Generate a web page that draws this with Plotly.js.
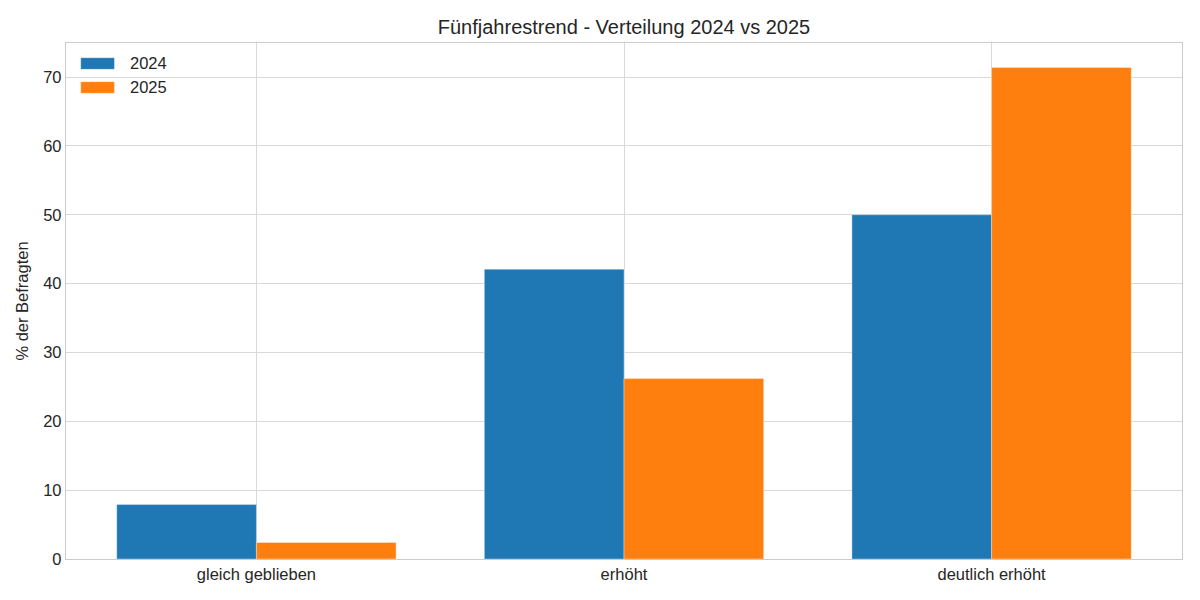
<!DOCTYPE html>
<html>
<head>
<meta charset="utf-8">
<script src="https://cdn.plot.ly/plotly-3.0.1.min.js"></script>
<style>html,body{margin:0;padding:0;background:#fff}#chart{width:1200px;height:600px}</style>
</head>
<body>
<div id="chart"></div>
<script>
const categories = ["gleich geblieben", "erhöht", "deutlich erhöht"];
const values2024 = [7.9, 42.1, 50.0];
const values2025 = [2.4, 26.2, 71.4];
const seriesNames = ["2024", "2025"];
const seriesColors = ["#1f77b4", "#ff7f0e"];
const yTicks = [0, 10, 20, 30, 40, 50, 60, 70];

const font = {family: "Liberation Sans, Arial, sans-serif", color: "#262626"};
const f = s => Object.assign({size: s}, font);

const traces = [
  {type: "bar", name: seriesNames[0], x: categories, y: values2024, showlegend: false,
   marker: {color: seriesColors[0], line: {color: "rgba(255,255,255,0.6)", width: 0.6}}},
  {type: "bar", name: seriesNames[1], x: categories, y: values2025, showlegend: false,
   marker: {color: seriesColors[1], line: {color: "rgba(255,255,255,0.6)", width: 0.6}}}
];

// manual legend (matplotlib-style wide swatches)
const shapes = [];
const annotations = [];
const legendTop = [0.9715, 0.9250];
const swatchH = 0.0225;
seriesNames.forEach((name, i) => {
  shapes.push({type: "rect", xref: "paper", yref: "paper",
    x0: 0.0132, x1: 0.0434, y0: legendTop[i] - swatchH, y1: legendTop[i],
    fillcolor: seriesColors[i], line: {color: "rgba(255,255,255,0.6)", width: 0.6}});
  annotations.push({xref: "paper", yref: "paper", x: 0.0558, y: legendTop[i] - swatchH / 2 + 0.001,
    xanchor: "left", yanchor: "middle", text: name, showarrow: false, font: f(16.5)});
});

const layout = {
  width: 1200, height: 600,
  margin: {l: 66, r: 18, t: 43, b: 41},
  paper_bgcolor: "#fff", plot_bgcolor: "#fff",
  font: f(16.5),
  title: {text: "Fünfjahrestrend - Verteilung 2024 vs 2025", xref: "paper", x: 0.5, xanchor: "center",
          y: 0.955, yanchor: "middle", font: f(20)},
  barmode: "group", bargap: 0.24, bargroupgap: 0,
  xaxis: {type: "category", range: [-0.518, 2.518], showgrid: true, gridcolor: "#d9d9d9", gridwidth: 1,
          showline: true, mirror: true, linecolor: "#cccccc", linewidth: 1.2, ticks: "", zeroline: false,
          tickfont: f(16.5)},
  yaxis: {range: [0, 74.95], tickvals: yTicks, showgrid: true, gridcolor: "#d9d9d9", gridwidth: 1,
          showline: true, mirror: true, linecolor: "#cccccc", linewidth: 1.2, ticks: "", zeroline: false,
          tickfont: f(16.5),
          title: {text: "% der Befragten", font: f(16.5), standoff: 10}},
  shapes: shapes,
  annotations: annotations,
  showlegend: false
};

Plotly.newPlot("chart", traces, layout, {staticPlot: true});
</script>
</body>
</html>
